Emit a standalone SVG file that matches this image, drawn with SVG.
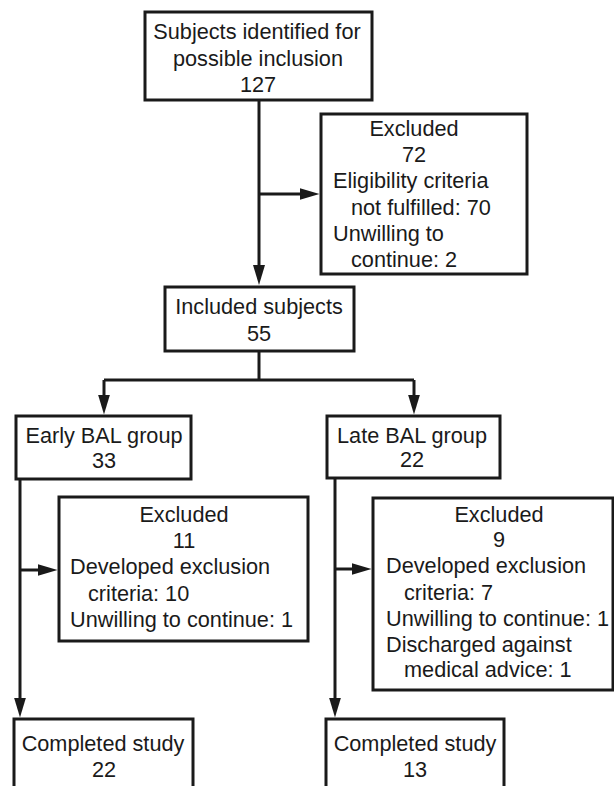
<svg xmlns="http://www.w3.org/2000/svg" width="614" height="786" viewBox="0 0 614 786">
<style>
.box{fill:#fff;stroke:#1a1a1a;stroke-width:3}
.t{font-family:"Liberation Sans",Arial,sans-serif;font-size:21.7px;fill:#1a1a1a}
.c{text-anchor:middle}
.ln{fill:none;stroke:#1a1a1a;stroke-width:3}
</style>
<defs>
<marker id="ah" markerUnits="userSpaceOnUse" markerWidth="20" markerHeight="12" refX="10" refY="6" orient="auto">
<path d="M0,0 L20,6 L0,12 z" fill="#1a1a1a"/>
</marker>
</defs>
<rect width="614" height="786" fill="#fff"/>
<g id="connectors">
<path class="ln" d="M259,100 V275" marker-end="url(#ah)"/>
<path class="ln" d="M259,194 H309.5" marker-end="url(#ah)"/>
<path class="ln" d="M259,351 V380"/>
<path class="ln" d="M104,380 H414"/>
<path class="ln" d="M104,380 V404.5" marker-end="url(#ah)"/>
<path class="ln" d="M414,380 V404.5" marker-end="url(#ah)"/>
<path class="ln" d="M20,479 V707.5" marker-end="url(#ah)"/>
<path class="ln" d="M20,570 H47.5" marker-end="url(#ah)"/>
<path class="ln" d="M335,478 V707.5" marker-end="url(#ah)"/>
<path class="ln" d="M335,569 H361.5" marker-end="url(#ah)"/>
</g>
<g id="identified">
<rect class="box" x="145" y="12" width="227" height="88"/>
<text class="t c" x="257" y="39">Subjects identified for</text>
<text class="t c" x="258" y="66">possible inclusion</text>
<text class="t c" x="258" y="92">127</text>
</g>
<g id="excluded1">
<rect class="box" x="321" y="114" width="206" height="160"/>
<text class="t c" x="414" y="136">Excluded</text>
<text class="t c" x="414" y="162">72</text>
<text class="t" x="333" y="188">Eligibility criteria</text>
<text class="t" x="351" y="215">not fulfilled: 70</text>
<text class="t" x="333" y="241">Unwilling to</text>
<text class="t" x="351" y="267">continue: 2</text>
</g>
<g id="included">
<rect class="box" x="165" y="287" width="189" height="64"/>
<text class="t c" x="259" y="314">Included subjects</text>
<text class="t c" x="259" y="341">55</text>
</g>
<g id="early">
<rect class="box" x="16" y="416" width="175" height="63"/>
<text class="t c" x="104" y="443">Early BAL group</text>
<text class="t c" x="104" y="468">33</text>
</g>
<g id="late">
<rect class="box" x="327" y="416" width="173" height="62"/>
<text class="t c" x="412" y="443">Late BAL group</text>
<text class="t c" x="412" y="467">22</text>
</g>
<g id="excluded-early">
<rect class="box" x="59" y="497" width="249" height="144"/>
<text class="t c" x="184" y="522">Excluded</text>
<text class="t c" x="184" y="548">11</text>
<text class="t" x="70" y="574">Developed exclusion</text>
<text class="t" x="88" y="601">criteria: 10</text>
<text class="t" x="70" y="627">Unwilling to continue: 1</text>
</g>
<g id="excluded-late">
<rect class="box" x="373" y="498" width="240" height="192"/>
<text class="t c" x="499" y="522">Excluded</text>
<text class="t c" x="499" y="547">9</text>
<text class="t" x="386" y="573">Developed exclusion</text>
<text class="t" x="404" y="600">criteria: 7</text>
<text class="t" x="386" y="626">Unwilling to continue: 1</text>
<text class="t" x="386" y="652">Discharged against</text>
<text class="t" x="404" y="677">medical advice: 1</text>
</g>
<g id="completed-early">
<rect class="box" x="14" y="719" width="179" height="80"/>
<text class="t c" x="103" y="751">Completed study</text>
<text class="t c" x="104" y="777">22</text>
</g>
<g id="completed-late">
<rect class="box" x="326" y="719" width="178" height="80"/>
<text class="t c" x="415" y="751">Completed study</text>
<text class="t c" x="415" y="777">13</text>
</g>
</svg>
